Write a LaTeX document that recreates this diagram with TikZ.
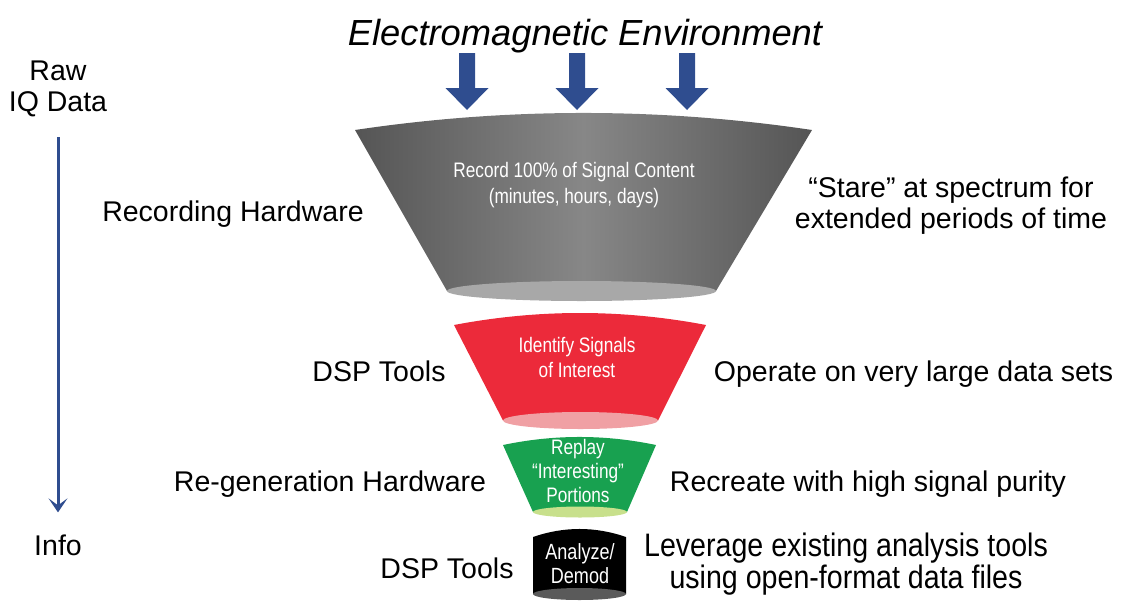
\documentclass[tikz,border=0pt]{standalone}
\usepackage{fontspec}
\setmainfont{Liberation Sans}
\newfontfamily\narrowfont[FakeStretch=0.88]{Liberation Sans}
\newfontfamily\tightfont[FakeStretch=0.82]{Liberation Sans}
\usetikzlibrary{arrows.meta}
\definecolor{navy}{HTML}{2F4D8F}
\definecolor{gedge}{HTML}{555555}
\definecolor{gmid}{HTML}{878787}
\definecolor{gbot}{HTML}{A8A8A8}
\definecolor{fred}{HTML}{EC2A3A}
\definecolor{fredbot}{HTML}{F0A0A4}
\definecolor{fgreen}{HTML}{18A150}
\definecolor{fgreenbot}{HTML}{C8E08C}
\definecolor{blkbot}{HTML}{5A5A5A}
\tikzset{
  lbl/.style={inner sep=0pt, text=black, font=\fontsize{28.5}{31}\selectfont, align=center},
  inner/.style={inner sep=0pt, text=white, align=center},
  blockarrow/.style={fill=navy},
  flow/.style={draw=navy, line width=3pt, -{Stealth[length=14pt,width=19pt,inset=7pt]}}
}
\begin{document}
\begin{tikzpicture}[x=1pt,y=-1pt]
\useasboundingbox (0,0) rectangle (1121,600);

% title
\node[lbl, anchor=base, font=\fontsize{36.3}{40}\selectfont\itshape] (title) at (585,45) {Electromagnetic Environment};

% block arrows
\foreach \cx in {467,577,687}{
  \fill[blockarrow] (\cx-8,53) -- (\cx+8,53) -- (\cx+8,88) -- (\cx+21.5,88) -- (\cx,110) -- (\cx-21.5,88) -- (\cx-8,88) -- cycle;
}

% gray funnel
\shade[left color=gedge, right color=gedge, middle color=gmid]
  (355,130) .. controls (507,107.3) and (660,107.3) .. (812,130) -- (716,291) -- (447,291) -- cycle;
\fill[gbot] (581.5,291) ellipse [x radius=134.5pt, y radius=10pt];

% red funnel
\fill[fred] (454,325) .. controls (538,309) and (622,309) .. (706,325) -- (658,420.5) -- (503,420.5) -- cycle;
\fill[fredbot] (580.5,420.5) ellipse [x radius=77.5pt, y radius=8.5pt];

% green funnel
\fill[fgreen] (503,445) .. controls (554,434.3) and (605,434.3) .. (656,445) -- (627,512) -- (533,512) -- cycle;
\fill[fgreenbot] (580,512) ellipse [x radius=47pt, y radius=5.5pt];

% black cylinder
\fill[black] (533,537) .. controls (564,526.3) and (595,526.3) .. (626,537) -- (626,594) -- (533,594) -- cycle;
\fill[blkbot] (579.5,594) ellipse [x radius=46.5pt, y radius=6pt];

% inner texts
\node[inner, font=\tightfont\fontsize{21}{26}\selectfont] (t1) at (574,185) {Record 100\% of Signal Content\\(minutes, hours, days)};
\node[inner, font=\tightfont\fontsize{21}{25}\selectfont] (t2) at (577,357.5) {Identify Signals\\of Interest};
\node[inner, font=\tightfont\fontsize{21}{24}\selectfont] (t3) at (578,471) {Replay\\“Interesting”\\Portions};
\node[inner, font=\tightfont\fontsize{22}{23.5}\selectfont] (t4) at (580,563.5) {Analyze/\\Demod};

% left axis
\node[lbl] (raw) at (58,89) {Raw\\IQ Data};
\node[lbl] (info) at (58,545) {Info};
\draw[flow, shorten <=20pt, shorten >=22pt] (raw.south) -- (info.north);

% side labels
\node[lbl, anchor=base] (rec) at (233,221.7) {Recording Hardware};
\node[lbl] (stare) at (951,206) {“Stare” at spectrum for\\extended periods of time};
\node[lbl, anchor=base] (dsp1) at (379,381.7) {DSP Tools};
\node[lbl, anchor=base] (operate) at (913.5,381.7) {Operate on very large data sets};
\node[lbl, anchor=base] (regen) at (330,491.7) {Re-generation Hardware};
\node[lbl, anchor=base] (recreate) at (868,491.7) {Recreate with high signal purity};
\node[lbl, anchor=base] (dsp2) at (447,578) {DSP Tools};
\node[lbl, font=\narrowfont\fontsize{32.5}{32}\selectfont] (leverage) at (846,564) {Leverage existing analysis tools\\using open-format data files};
\end{tikzpicture}
\end{document}
